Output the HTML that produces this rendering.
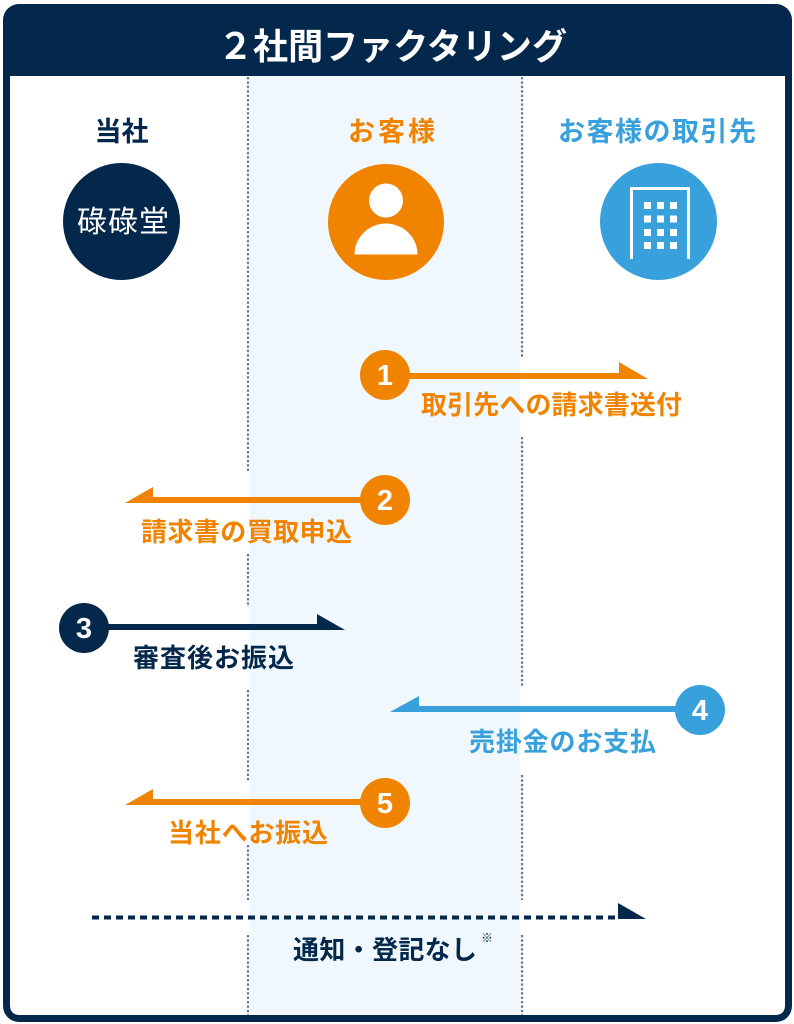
<!DOCTYPE html>
<html><head><meta charset="utf-8"><style>
html,body{margin:0;padding:0;background:#fff;}
svg{display:block;}
text{font-family:"Liberation Sans","Noto Sans CJK JP",sans-serif;}
</style></head><body>
<svg width="794" height="1024" viewBox="0 0 794 1024" xmlns="http://www.w3.org/2000/svg">
<rect x="0" y="0" width="794" height="1024" fill="#fff"/>
<!-- frame -->
<rect x="3" y="4" width="789" height="1018" rx="16" ry="16" fill="#04274c"/>
<path d="M10 76 H785 V1005 Q785 1015 775 1015 H20 Q10 1015 10 1005 Z" fill="#fff"/>
<!-- middle column -->
<rect x="250" y="76" width="270" height="939" fill="#f0f8fd"/>
<!-- dotted lines -->
<g stroke="#5e7c9a" stroke-width="2.2" stroke-dasharray="2.4 2">
<line x1="248" y1="77" x2="248" y2="473"/>
<line x1="248" y1="554" x2="248" y2="607"/>
<line x1="248" y1="690" x2="248" y2="782"/>
<line x1="248" y1="845" x2="248" y2="900"/>
<line x1="248" y1="935" x2="248" y2="1015"/>
<line x1="522" y1="77" x2="522" y2="357"/>
<line x1="522" y1="437" x2="522" y2="687"/>
<line x1="522" y1="775" x2="522" y2="900"/>
<line x1="522" y1="935" x2="522" y2="1015"/>
</g>
<!-- title -->
<text x="218" y="59" font-size="36" font-weight="700" fill="#fff" textLength="349" lengthAdjust="spacingAndGlyphs">２社間ファクタリング</text>
<!-- column labels -->
<text x="121.5" y="141" font-size="27" font-weight="700" fill="#04274c" text-anchor="middle">当社</text>
<text x="348" y="141" font-size="27" font-weight="700" fill="#f08300" textLength="87" lengthAdjust="spacing">お客様</text>
<text x="558" y="141" font-size="27" font-weight="700" fill="#38a1db" textLength="198" lengthAdjust="spacing">お客様の取引先</text>
<!-- circles -->
<circle cx="121.5" cy="221.5" r="58.5" fill="#04274c"/>
<text x="77" y="232" font-size="30" font-weight="400" fill="#fff" textLength="92" lengthAdjust="spacing">碌碌堂</text>
<circle cx="386" cy="222" r="58" fill="#f08300"/>
<circle cx="386" cy="200.5" r="17" fill="#fff"/>
<path d="M354.5 254.5 A31.5 31 0 0 1 417.5 254.5 Z" fill="#fff"/>
<circle cx="658.5" cy="221.5" r="58.5" fill="#38a1db"/>
<path d="M631.5 259 V188.5 H688.5 V259" fill="none" stroke="#fff" stroke-width="3"/>
<g fill="#fff">
<rect x="644" y="202" width="7" height="7"/><rect x="657" y="202" width="7" height="7"/><rect x="670" y="202" width="7" height="7"/>
<rect x="644" y="215.5" width="7" height="7"/><rect x="657" y="215.5" width="7" height="7"/><rect x="670" y="215.5" width="7" height="7"/>
<rect x="644" y="229" width="7" height="7"/><rect x="657" y="229" width="7" height="7"/><rect x="670" y="229" width="7" height="7"/>
<rect x="644" y="242" width="7" height="7"/><rect x="657" y="242" width="7" height="7"/><rect x="670" y="242" width="7" height="7"/>
</g>
<!-- arrow 1 -->
<rect x="385" y="373" width="236" height="6" fill="#f08300"/>
<polygon points="619,362 648,379 619,379" fill="#f08300"/>
<circle cx="385" cy="375" r="25" fill="#f08300"/>
<text x="385" y="385" font-size="29" font-weight="700" fill="#fff" text-anchor="middle">1</text>
<text x="421" y="414" font-size="26" font-weight="700" fill="#f08300" textLength="261" lengthAdjust="spacing">取引先への請求書送付</text>
<!-- arrow 2 -->
<rect x="151" y="497" width="234" height="6" fill="#f08300"/>
<polygon points="153,487 125,503 153,503" fill="#f08300"/>
<circle cx="385" cy="500" r="25" fill="#f08300"/>
<text x="385" y="510" font-size="29" font-weight="700" fill="#fff" text-anchor="middle">2</text>
<text x="141" y="541" font-size="26" font-weight="700" fill="#f08300" textLength="211" lengthAdjust="spacing">請求書の買取申込</text>
<!-- arrow 3 -->
<rect x="84" y="624" width="235" height="6" fill="#04274c"/>
<polygon points="317,614 345,630 317,630" fill="#04274c"/>
<circle cx="84" cy="628" r="25" fill="#04274c"/>
<text x="84" y="638" font-size="29" font-weight="700" fill="#fff" text-anchor="middle">3</text>
<text x="133" y="667" font-size="26" font-weight="700" fill="#04274c" textLength="161" lengthAdjust="spacing">審査後お振込</text>
<!-- arrow 4 -->
<rect x="417" y="706" width="283" height="6" fill="#38a1db"/>
<polygon points="419,696 390,712 419,712" fill="#38a1db"/>
<circle cx="700" cy="710" r="25" fill="#38a1db"/>
<text x="700" y="720" font-size="29" font-weight="700" fill="#fff" text-anchor="middle">4</text>
<text x="469" y="751" font-size="26" font-weight="700" fill="#38a1db" textLength="187" lengthAdjust="spacing">売掛金のお支払</text>
<!-- arrow 5 -->
<rect x="151" y="799" width="234" height="6" fill="#f08300"/>
<polygon points="153,789 125,805 153,805" fill="#f08300"/>
<circle cx="385" cy="803" r="25" fill="#f08300"/>
<text x="385" y="813" font-size="29" font-weight="700" fill="#fff" text-anchor="middle">5</text>
<text x="168" y="842" font-size="26" font-weight="700" fill="#f08300" textLength="160" lengthAdjust="spacing">当社へお振込</text>
<!-- dashed arrow -->
<line x1="92" y1="917.5" x2="620" y2="917.5" stroke="#04274c" stroke-width="4" stroke-dasharray="7 5"/>
<rect x="92" y="915.5" width="2" height="4" fill="#04274c"/>
<polygon points="618,903 646,919 618,919" fill="#04274c"/>
<text x="293" y="959" font-size="26" font-weight="700" fill="#04274c" textLength="184" lengthAdjust="spacing">通知・登記なし</text>
<text x="481" y="942" font-size="12" font-weight="400" fill="#04274c">※</text>
</svg>
</body></html>
